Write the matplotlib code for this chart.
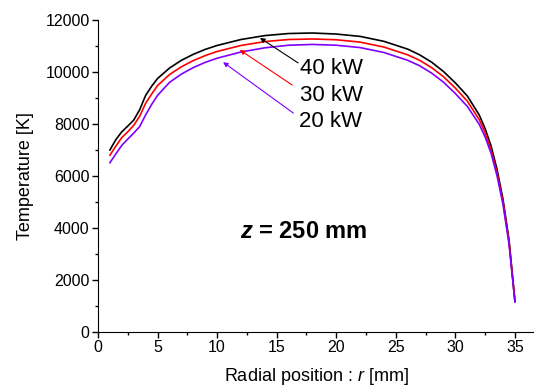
import matplotlib
matplotlib.use("Agg")
import matplotlib.pyplot as plt
from matplotlib.ticker import MultipleLocator

plt.rcParams['font.family'] = ['Liberation Sans', 'DejaVu Sans']
plt.rcParams['mathtext.fontset'] = 'custom'
plt.rcParams['mathtext.it'] = 'Liberation Sans:italic'
plt.rcParams['mathtext.bfit'] = 'Liberation Sans:bold:italic'
plt.rcParams['mathtext.bf'] = 'Liberation Sans:bold'
plt.rcParams['mathtext.rm'] = 'Liberation Sans'

r = [1, 1.5, 2, 2.5, 3, 3.5, 4, 4.5, 5, 6, 7, 8, 9, 10, 12, 14, 16, 18, 20, 22,
     24, 26, 27, 28, 29, 30, 31, 32, 32.5, 33, 33.5, 34, 34.5, 35]
t_40kw = [7000, 7400, 7700, 7920, 8150, 8550, 9100, 9450, 9750, 10150, 10450, 10680,
          10870, 11020, 11250, 11400, 11480, 11500, 11460, 11370, 11180, 10880, 10660,
          10380, 10020, 9580, 9080, 8350, 7820, 7150, 6250, 5100, 3550, 1200]
t_30kw = [6800, 7150, 7480, 7700, 7950, 8300, 8800, 9150, 9480, 9900, 10200, 10440,
          10630, 10790, 11020, 11170, 11250, 11270, 11240, 11150, 10960, 10660, 10450,
          10170, 9820, 9380, 8880, 8170, 7660, 7000, 6120, 5000, 3480, 1180]
t_20kw = [6510, 6850, 7180, 7420, 7650, 7900, 8350, 8750, 9100, 9600, 9920, 10170,
          10370, 10530, 10770, 10930, 11030, 11060, 11030, 10940, 10750, 10450, 10240,
          9960, 9610, 9170, 8680, 7990, 7500, 6870, 6000, 4900, 3400, 1150]

labels = ["40 kW", "30 kW", "20 kW"]
colors = ["black", "#ff0000", "#8000ff"]

fig = plt.figure(figsize=(5.34, 3.87), dpi=100)
ax = fig.add_axes([0.1835, 0.1421, 0.8165, 0.8062])

for t, c in zip([t_40kw, t_30kw, t_20kw], colors):
    ax.plot(r, t, color=c, lw=1.2)

ax.set_xlim(0, 36.6)
ax.set_ylim(0, 12000)
ax.xaxis.set_major_locator(MultipleLocator(5))
ax.xaxis.set_minor_locator(MultipleLocator(2.5))
ax.yaxis.set_major_locator(MultipleLocator(2000))
ax.yaxis.set_minor_locator(MultipleLocator(1000))
ax.tick_params(which='major', direction='out', length=4.5, width=1, labelsize=11.5, pad=1.5)
ax.tick_params(which='minor', direction='out', length=2.2, width=1)
ax.spines['top'].set_visible(False)
ax.spines['right'].set_visible(False)

ax.set_xlabel("Radial position : $\\mathit{r}$ [mm]", fontsize=13, labelpad=8)
ax.set_ylabel("Temperature [K]", fontsize=13, labelpad=8)

# annotations
tips = [(13.6, 11310), (11.9, 10850), (10.5, 10380)]
tails = [(16.8, 10350), (16.3, 9500), (16.4, 8420)]
text_pos = [(16.95, 10150), (16.95, 9115), (16.9, 8115)]
for lab, c, tip, tail, tp in zip(labels, colors, tips, tails, text_pos):
    ax.annotate("", xy=tip, xytext=tail,
                arrowprops=dict(arrowstyle="-|>", color=c, lw=0.8,
                                mutation_scale=7, shrinkA=0, shrinkB=0))
    ax.text(tp[0], tp[1], lab, fontsize=16, ha='left', va='center', color='black')

ax.text(17.3, 3850, "$\\boldsymbol{z}$ = 250 mm", fontsize=17, fontweight='bold',
        ha='center', va='center')

fig.savefig("out.png", dpi=100)
